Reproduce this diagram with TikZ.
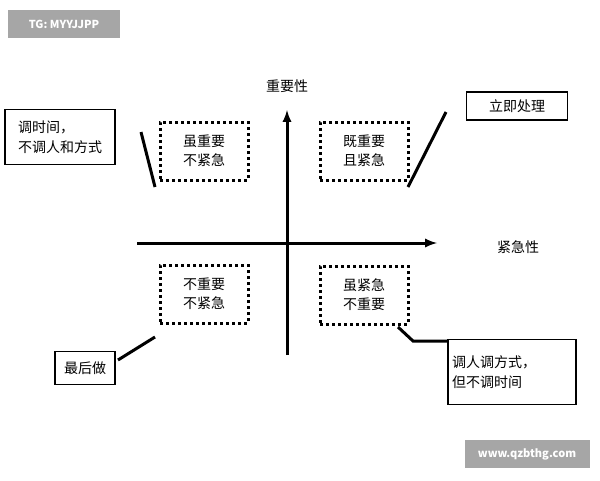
\documentclass[tikz,border=0pt]{standalone}
\usepackage{fontspec}
\setmainfont{Noto Sans CJK SC}
\begin{document}
\begin{tikzpicture}[x=1pt,y=-1pt,
  dbox/.style={draw,line width=3pt,dash pattern=on 3pt off 3pt,minimum width=88pt,minimum height=58pt,align=left,font=\fontsize{14}{19}\selectfont},
  sbox/.style={draw,line width=1.5pt,align=left,inner sep=4pt,font=\fontsize{14}{20}\selectfont},
  conn/.style={line width=3pt},
  axis/.style={line width=3pt,-latex},
  tag/.style={fill=gray!70,text=white,font=\fontsize{11}{12}\selectfont\bfseries}]
\useasboundingbox (0,0) rectangle (600,480);
\node[tag,minimum width=112pt,minimum height=28pt] (tg) at (64,24) {TG: MYYJJPP};
\node[tag,minimum width=125pt,minimum height=28pt] (www) at (527,454) {www.qzbthg.com};
\coordinate (vb) at (287,355); \coordinate (vt) at (287,110);
\coordinate (hl) at (137,243); \coordinate (hr) at (437,243);
\draw[axis] (vb) -- (vt);
\draw[axis] (hl) -- (hr);
\node[font=\fontsize{14}{15}\selectfont] (imp) at (287,86) {重要性};
\node[font=\fontsize{14}{15}\selectfont] (urg) at (518,247) {紧急性};
\node[dbox] (q2) at (204,151) {虽重要\\不紧急};
\node[dbox] (q1) at (364,151) {既重要\\且紧急};
\node[dbox] (q3) at (204,294) {不重要\\不紧急};
\node[dbox] (q4) at (364,295) {虽紧急\\不重要};
\node[sbox,minimum width=110pt,minimum height=55pt] (a) at (60,137) {调时间，\\不调人和方式};
\node[sbox,minimum width=101pt,minimum height=28pt] (b) at (517,106) {立即处理};
\node[sbox,minimum width=60pt,minimum height=33pt] (c) at (85,368) {最后做};
\node[sbox,text width=120pt,minimum height=65pt] (d) at (512,372) {调人调方式，\\但不调时间};
\coordinate (as) at (141,132); \coordinate (ae) at (155,187);
\coordinate (bs) at (446,112); \coordinate (be) at (408,187);
\coordinate (cs) at (118,360); \coordinate (ce) at (155,337);
\coordinate (de) at (398,327); \coordinate (dm) at (413,341);
\draw[conn] (as) -- (ae);
\draw[conn] (bs) -- (be);
\draw[conn] (cs) -- (ce);
\draw[conn] (de) -- (dm) -- (dm -| d.west);
\end{tikzpicture}
\end{document}
